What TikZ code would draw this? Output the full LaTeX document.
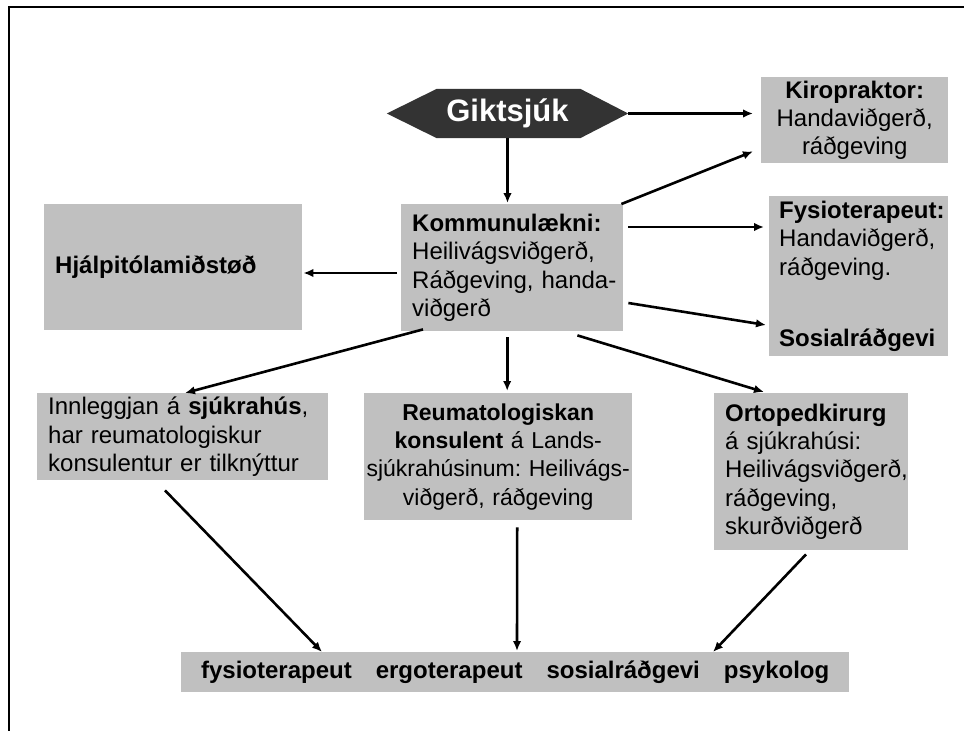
\documentclass[tikz,border=0pt]{standalone}
\usepackage{fontspec}
\setmainfont{Liberation Sans}
\usetikzlibrary{arrows.meta,calc,backgrounds}
\definecolor{boxgray}{RGB}{192,192,192}
\definecolor{hexdark}{RGB}{51,51,51}
\newcommand\fs{\fontsize{24}{28.4}\selectfont\frenchspacing}
\newcommand\fsr{\fontsize{23}{28.4}\selectfont\frenchspacing}
\begin{document}
\begin{tikzpicture}[x=1pt,y=-1pt,
  box/.style={fill=boxgray, anchor=north west, inner ysep=0pt, font=\fs},
  lbox/.style={box, align=left},
  cbox/.style={box, align=center},
  arr/.style={line width=2.6pt, -{Latex[length=10pt,width=8.5pt]}},
  gikstyle/.style={minimum width=241pt, minimum height=49pt, inner sep=0pt, text=white,
    font=\fontsize{31}{31}\selectfont\bfseries}
  ]
\useasboundingbox (0,0) rectangle (964,731);
\draw[line width=2pt] (9,731) -- (9,7) -- (964,7);

% hexagon
\node[gikstyle] (gik) at (507.5,113.5) {Giktsjúk};
\begin{scope}[on background layer]
\fill[hexdark] (gik.west) -- ($(gik.north west)+(50,0)$) -- ($(gik.north east)+(-48,0)$)
  -- (gik.east) -- ($(gik.south east)+(-48,0)$) -- ($(gik.south west)+(50,0)$) -- cycle;
\end{scope}

% boxes
\node[cbox, minimum width=187pt, minimum height=86pt, text width=179pt, inner xsep=4pt] (kiro) at (761,77)
  {\mbox{\bfseries Kiropraktor:}\\\mbox{Handaviðgerð,}\\\mbox{ráðgeving}};
\node[lbox, minimum width=222pt, minimum height=127pt, text width=200pt, inner xsep=11pt] (kom) at (401,204)
  {\mbox{\bfseries Kommunulækni:}\\\mbox{Heilivágsviðgerð,}\\\mbox{Ráðgeving, handa-}\\\mbox{viðgerð}};
\node[lbox, minimum width=258pt, minimum height=126pt, text width=236pt, inner xsep=11pt] (hja) at (44,204)
  {\mbox{\bfseries Hjálpitólamiðstøð}};
\node[lbox, minimum width=179pt, minimum height=160pt, text width=159pt, inner xsep=10pt] (fys) at (769,196)
  {\mbox{\bfseries Fysioterapeut:}\\\mbox{Handaviðgerð,}\\\mbox{ráðgeving.}\\[43pt]\mbox{\bfseries Sosialráðgevi}};
\node[lbox, minimum width=291pt, minimum height=87pt, text width=269pt, inner xsep=11pt] (inn) at (37,393)
  {\mbox{Innleggjan á \textbf{sjúkrahús},}\\\mbox{har reumatologiskur}\\\mbox{konsulentur er tilknýttur}};
\node[cbox, font=\fsr, minimum width=268pt, minimum height=127pt, text width=268pt, inner xsep=0pt] (reu) at (364,393)
  {\mbox{\bfseries Reumatologiskan}\\\mbox{\textbf{konsulent} á Lands-}\\\mbox{sjúkrahúsinum: Heilivágs-}\\\mbox{viðgerð, ráðgeving}};
\node[lbox, minimum width=194pt, minimum height=157pt, text width=172pt, inner xsep=11pt] (ort) at (714,393)
  {\mbox{\bfseries Ortopedkirurg}\\\mbox{á sjúkrahúsi:}\\\mbox{Heilivágsviðgerð,}\\\mbox{ráðgeving,}\\\mbox{skurðviðgerð}};
\node[cbox, minimum width=668pt, minimum height=40pt, text width=668pt, inner xsep=0pt] (bot) at (181,652)
  {\mbox{\bfseries fysioterapeut\hspace{24pt}ergoterapeut\hspace{24pt}sosialráðgevi\hspace{24pt}psykolog}};

% connectors
\draw[arr, shorten >=8pt] (gik.east) -- (gik.east -| kiro.west);
\draw[arr, shorten >=1pt] (gik.south) -- (gik.south |- kom.north);
\draw[arr] ($(kom.north east)+(-2,0)$) -- ($(kiro.south west)+(-8,-12)$);
\draw[arr, shorten >=5pt] ($(kom.north east)+(5,23)$) -- ($(fys.north west)+(0,31)$);
\draw[arr] ($(kom.north east)+(5,99)$) -- ($(fys.north west)+(-3,129)$);
\draw[arr] ($(kom.north west)+(-4,69)$) -- ($(hja.north east)+(1,69)$);
\draw[arr] ($(kom.south west)+(22,-2)$) -- ($(inn.north west)+(148,0)$);
\draw[arr] ($(kom.south)+(-5,6)$) -- ($(reu.north)+(9,-2)$);
\draw[arr] ($(kom.south east)+(-46,4)$) -- ($(ort.north west)+(50,-1)$);
\draw[arr] ($(inn.south west)+(128,10)$) -- ($(bot.north west)+(141,0)$);
\draw[arr] ($(reu.south)+(19,7)$) -- ($(bot.north west)+(336,-1)$);
\draw[arr] ($(ort.south west)+(92,4)$) -- ($(bot.north west)+(532,0)$);
\end{tikzpicture}
\end{document}
